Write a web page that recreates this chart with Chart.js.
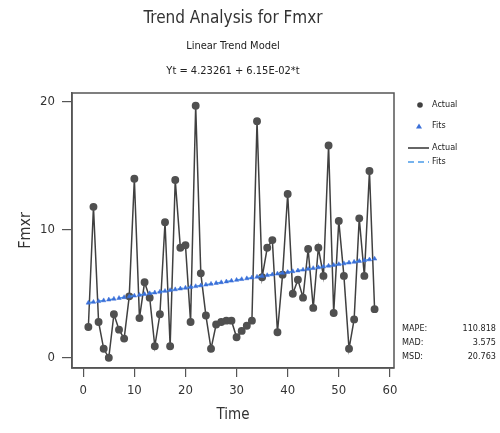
<!DOCTYPE html>
<html><head><meta charset="utf-8">
<script src="https://cdn.jsdelivr.net/npm/chart.js@4/dist/chart.umd.min.js"></script>
<style>html,body{margin:0;padding:0;background:#fff}#wrap{position:relative;width:500px;height:433px}</style>
</head><body><div id="wrap"><canvas id="c" width="500" height="433"></canvas></div>
<script>
const time = [1,2,3,4,5,6,7,8,9,10,11,12,13,14,15,16,17,18,19,20,21,22,23,24,25,26,27,28,29,30,31,32,33,34,35,36,37,38,39,40,41,42,43,44,45,46,47,48,49,50,51,52,53,54,55,56,57];
const actual = [2.4,11.8,2.8,0.7,0.0,3.4,2.2,1.5,4.8,14.0,3.1,5.9,4.7,0.9,3.4,10.6,0.9,13.9,8.6,8.8,2.8,19.7,6.6,3.3,0.7,2.6,2.8,2.9,2.9,1.6,2.1,2.5,2.9,18.5,6.3,8.6,9.2,2.0,6.5,12.8,5.0,6.1,4.7,8.5,3.9,8.6,6.4,16.6,3.5,10.7,6.4,0.7,3.0,10.9,6.4,14.6,3.8];
const fits = [4.294,4.356,4.417,4.479,4.540,4.602,4.663,4.725,4.786,4.848,4.909,4.971,5.032,5.094,5.155,5.217,5.278,5.340,5.401,5.463,5.524,5.586,5.647,5.709,5.770,5.832,5.893,5.955,6.016,6.078,6.139,6.201,6.262,6.324,6.385,6.447,6.508,6.570,6.631,6.693,6.754,6.816,6.877,6.939,7.000,7.062,7.123,7.185,7.246,7.308,7.369,7.431,7.492,7.554,7.615,7.677,7.738];
const xTicks = [0,10,20,30,40,50,60];
const yTicks = [0,10,20];
const statLabels = ["MAPE:","MAD:","MSD:"];
const statValues = ["110.818","3.575","20.763"];
const legendLabels = ["Actual","Fits","Actual","Fits"];

const NARROW = "'Liberation Sans Narrow','DejaVu Sans Condensed','Liberation Sans',Arial,sans-serif";
const ACT = '#404040', FIT = '#3a6fd8', FITLINE = '#4a9ae8';

const extras = {
  id: 'extras',
  afterDraw(chart) {
    const ctx = chart.ctx, a = chart.chartArea;
    ctx.save();
    ctx.strokeStyle = '#555'; ctx.lineWidth = 1.5;
    ctx.strokeRect(a.left, a.top, a.right - a.left, a.bottom - a.top);
    // legend
    ctx.fillStyle = ACT;
    ctx.beginPath(); ctx.arc(420, 105, 2.8, 0, Math.PI * 2); ctx.fill();
    ctx.fillStyle = FIT;
    ctx.beginPath(); ctx.moveTo(419, 123.5); ctx.lineTo(422, 128.5); ctx.lineTo(416, 128.5); ctx.closePath(); ctx.fill();
    ctx.strokeStyle = '#333'; ctx.lineWidth = 1.5;
    ctx.beginPath(); ctx.moveTo(408, 148); ctx.lineTo(429, 148); ctx.stroke();
    ctx.strokeStyle = FITLINE; ctx.setLineDash([6, 4]);
    ctx.beginPath(); ctx.moveTo(408, 162); ctx.lineTo(429, 162); ctx.stroke();
    ctx.setLineDash([]);
    ctx.fillStyle = '#222'; ctx.font = '9px ' + NARROW; ctx.textBaseline = 'middle'; ctx.textAlign = 'left';
    const ly = [105, 126, 148, 162];
    legendLabels.forEach((t, i) => ctx.fillText(t, 432, ly[i]));
    // stats
    const sy = [329, 343, 357];
    statLabels.forEach((t, i) => { ctx.textAlign = 'left'; ctx.fillText(t, 402, sy[i]); ctx.textAlign = 'right'; ctx.fillText(statValues[i], 496, sy[i]); });
    ctx.restore();
  }
};

new Chart(document.getElementById('c'), {
  type: 'line',
  data: {
    datasets: [
      { label: 'Actual', data: time.map((t, i) => ({x: t, y: actual[i]})), order: 2,
        borderColor: ACT, borderWidth: 1.5, backgroundColor: ACT, pointBackgroundColor: '#505050', pointBorderColor: '#505050',
        pointRadius: 3.2, pointStyle: 'circle', tension: 0 },
      { label: 'Fits', data: time.map((t, i) => ({x: t, y: fits[i]})), order: 1,
        borderColor: FITLINE, borderWidth: 1.5, borderDash: [6, 4], pointBackgroundColor: FIT, pointBorderColor: FIT,
        pointRadius: 2.6, pointBorderWidth: 0.5, pointStyle: 'triangle', tension: 0 }
    ]
  },
  options: {
    responsive: false, animation: false, devicePixelRatio: 1,
    layout: { padding: { left: 0, right: 106, top: 0, bottom: 0 } },
    plugins: {
      legend: { display: false }, tooltip: { enabled: false },
      title: { display: true, fullSize: false, text: 'Trend Analysis for Fmxr', color: '#333',
        font: { family: NARROW, size: 17, weight: 'normal', lineHeight: '23px' }, padding: { top: 7, bottom: 4 } },
      subtitle: { display: true, fullSize: false, text: ['Linear Trend Model', 'Yt = 4.23261 + 6.15E-02*t'], color: '#222',
        font: { family: NARROW, size: 11, weight: 'normal', lineHeight: '25px' }, padding: { top: 0, bottom: 9 } }
    },
    scales: {
      x: { type: 'linear', min: -2.2, max: 60.8,
        afterFit: s => { s.height = 65; },
        afterBuildTicks: s => { s.ticks = xTicks.map(v => ({value: v})); },
        ticks: { color: '#333', font: { family: NARROW, size: 13 }, padding: 6, maxRotation: 0 },
        grid: { drawOnChartArea: false, drawTicks: true, tickLength: 9, color: '#555', lineWidth: 1.2 },
        border: { display: true, color: '#555', width: 1.5 },
        title: { display: true, text: 'Time', color: '#333', font: { family: NARROW, size: 15 }, padding: { top: 0, bottom: 9 } } },
      y: { type: 'linear', min: -0.8, max: 20.7,
        afterFit: s => { s.width = 72; },
        afterBuildTicks: s => { s.ticks = yTicks.map(v => ({value: v})); },
        ticks: { color: '#333', font: { family: NARROW, size: 13 }, padding: 7 },
        grid: { drawOnChartArea: false, drawTicks: true, tickLength: 10, color: '#555', lineWidth: 1.2 },
        border: { display: true, color: '#555', width: 1.5 },
        title: { display: true, text: 'Fmxr', color: '#333', font: { family: NARROW, size: 16 }, padding: { top: 16, bottom: 0 } } }
    }
  },
  plugins: [extras]
});
</script></body></html>
